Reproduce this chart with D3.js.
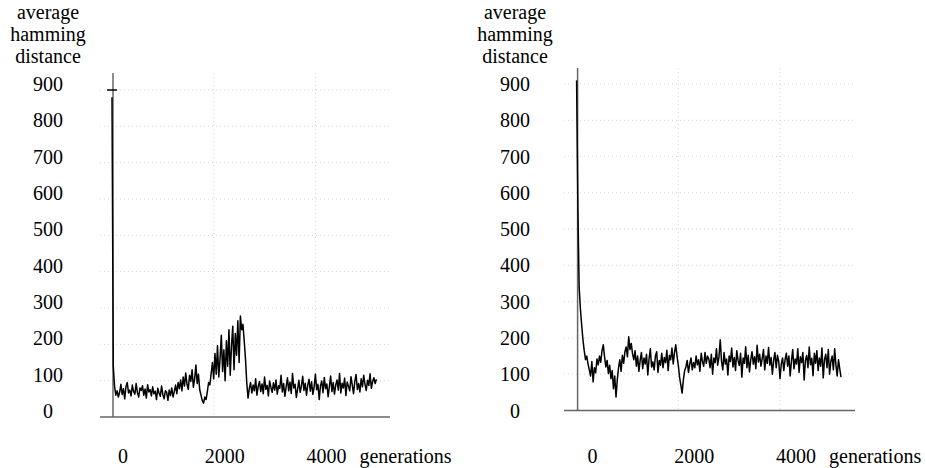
<!DOCTYPE html>
<html>
<head>
<meta charset="utf-8">
<script src="https://d3js.org/d3.v7.min.js"></script>
<style>
  body { margin: 0; background: #fff; }
</style>
</head>
<body>
<svg id="chart" width="926" height="468"></svg>
<script>
// generations between two samples
var genStep = 25;

var yTicks = [0, 100, 200, 300, 400, 500, 600, 700, 800, 900];
var xTicks = [0, 2000, 4000];
var xGrid = [2000, 4000];
var titleLines = ["average", "hamming", "distance"];
var xTitle = "generations";

// left run: spike at start, bump around 2000-2600
var leftValues = [
  880, 140, 85, 60, 72,
  55, 68, 90, 62, 78, 50, 84, 95, 66, 74,
  58, 88, 70, 63, 92, 67, 55, 80, 73, 86,
  60, 77, 52, 89, 69, 75, 58, 83, 64, 71,
  48, 79, 66, 57, 85, 62, 50, 72, 68, 46,
  74, 59, 80, 55,
  70, 88, 64, 95, 78, 102, 72, 110, 85, 121,
  90, 76, 115, 98, 130, 82, 105, 143, 92, 118,
  75, 60,
  45, 38, 55, 48, 70, 95, 88, 120,
  150, 105, 175, 118, 196, 110, 160, 225, 125, 185,
  100, 210, 140, 240, 115, 195, 250, 130, 230, 170,
  265, 150,
  278, 240, 255, 210, 160, 95,
  52, 78, 95, 66, 88, 72, 105, 60, 84, 98,
  70, 91, 64, 110, 76, 87, 58, 99, 82, 68,
  94, 74, 102, 63, 86, 79, 115, 69, 92, 57,
  83, 108, 72, 96, 65, 120, 80, 90, 54, 77,
  101, 68, 85, 112, 73, 93, 60, 88, 104, 71,
  97, 62, 82, 118, 75, 90, 48, 86, 99, 67,
  109, 78, 91, 56, 84, 113, 70, 95, 63, 88,
  102, 74, 120, 66, 93, 80, 107, 59, 96, 85,
  72, 111, 88, 64, 98, 117, 76, 92, 69, 105,
  83, 115, 90, 73, 101, 87, 119, 79, 97, 108,
  92, 104
];

// right run: fast decay then flat noisy plateau
var rightValues = [
  910, 560, 340, 280, 235, 195, 165, 140, 150,
  128, 112, 95, 135, 79, 118, 104, 142, 126, 150,
  133, 165, 181, 148, 120, 138,
  102, 125, 88, 110, 60, 95, 37, 84, 118, 140,
  108, 152, 130, 162, 175, 148, 203, 168, 185, 156,
  140, 165, 122, 150, 108, 138, 160, 115, 145, 128,
  155, 98, 142, 170, 120, 134, 112, 150, 162, 105,
  138, 125, 158, 118, 146, 132, 166, 110, 152, 140,
  172, 128, 160, 181, 150, 125,
  92, 70, 48, 85, 110,
  120, 138, 105, 128, 145, 112, 132, 118, 150, 126,
  140, 108, 158, 135, 122, 160, 130, 150, 142, 118,
  155, 100, 145, 132, 170, 125, 148, 195, 136, 112,
  160, 128, 142, 98, 150, 135, 172, 120, 146, 110,
  165, 138, 124, 158, 92, 145, 130, 176, 118, 152,
  106, 140, 162, 128, 148, 115, 180, 134, 155, 122,
  143, 168, 112, 150, 130, 174, 125, 146, 100, 138,
  160, 118, 152, 135, 88, 128, 145, 110, 140, 158,
  122, 150, 95, 136, 168, 115, 142, 128, 170, 105,
  148, 132, 160, 84, 138, 152, 118, 175, 126, 144,
  96, 158, 130, 165, 110, 145, 122, 172, 90, 140,
  155, 118, 168, 100, 135, 150, 112, 170, 125, 95,
  140, 115, 92
];

var fontFamily = "'Liberation Serif', 'Times New Roman', Times, 'DejaVu Serif', serif";

var svg = d3.select("#chart");

// panel layout (pixels)
var panels = [
  {values: leftValues, x0: 112, y0: 417, y900: 90, axisLeft: 100, axisRight: 390, axisTop: 73,
   labelX: 48, labelShift: 1, xLabelShift: 11, titleX: 48, mark900: true},
  {values: rightValues, x0: 576.6, y0: 410.5, y900: 84, axisLeft: 564, axisRight: 855, axisTop: 68,
   labelX: 515, labelShift: 7, xLabelShift: 16, titleX: 515, mark900: false}
];

function styleText(sel){
  return sel.attr("font-family", fontFamily).attr("font-size", 20).attr("fill", "#000");
}

panels.forEach(function(p){
  var x = d3.scaleLinear().domain([0, 5000]).range([p.x0, p.x0 + 254.25]);
  var y = d3.scaleLinear().domain([0, 900]).range([p.y0, p.y900]);
  var g = svg.append("g");

  // dotted grid
  g.selectAll(".hgrid").data(yTicks.slice(1)).enter().append("line")
    .attr("class", "hgrid")
    .attr("x1", p.axisLeft).attr("x2", p.axisRight)
    .attr("y1", function(d){ return y(d); }).attr("y2", function(d){ return y(d); })
    .style("stroke", "#d4d4d4").style("stroke-width", 1).style("stroke-dasharray", "1,3");

  g.selectAll(".vgrid").data(xGrid).enter().append("line")
    .attr("class", "vgrid")
    .attr("x1", function(d){ return x(d); }).attr("x2", function(d){ return x(d); })
    .attr("y1", p.axisTop).attr("y2", p.y0)
    .style("stroke", "#d4d4d4").style("stroke-width", 1).style("stroke-dasharray", "1,3");

  // axes
  g.append("line")
    .attr("x1", p.axisLeft).attr("x2", p.axisRight).attr("y1", p.y0).attr("y2", p.y0)
    .style("stroke", "#666").style("stroke-width", 1.5);
  g.append("line")
    .attr("x1", x(0) + 1).attr("x2", x(0) + 1).attr("y1", p.axisTop).attr("y2", p.y0)
    .style("stroke", "#666").style("stroke-width", 1.5);

  if (p.mark900) {
    g.append("line")
      .attr("x1", x(0) - 5).attr("x2", x(0) + 5).attr("y1", y(900)).attr("y2", y(900))
      .style("stroke", "#000").style("stroke-width", 1.5);
  }

  // data
  var line = d3.line()
    .x(function(d, i){ return x(i * genStep); })
    .y(function(d){ return y(d); });
  g.append("path").datum(p.values)
    .attr("d", line)
    .style("fill", "none").style("stroke", "#000").style("stroke-width", 1.5)
    .style("stroke-linejoin", "round");

  // y tick labels
  styleText(g.selectAll(".ylab").data(yTicks).enter().append("text"))
    .attr("class", "ylab")
    .attr("x", p.labelX)
    .attr("y", function(d){ return y(d) + p.labelShift; })
    .attr("text-anchor", "middle")
    .text(function(d){ return d; });

  // x tick labels
  styleText(g.selectAll(".xlab").data(xTicks).enter().append("text"))
    .attr("class", "xlab")
    .attr("x", function(d){ return x(d) + p.xLabelShift; })
    .attr("y", 463)
    .attr("text-anchor", "middle")
    .text(function(d){ return d; });

  styleText(g.append("text"))
    .attr("x", x(4000) + p.xLabelShift + 33).attr("y", 463)
    .text(xTitle);

  // axis title
  styleText(g.selectAll(".title").data(titleLines).enter().append("text"))
    .attr("class", "title")
    .attr("x", p.titleX)
    .attr("y", function(d, i){ return 19 + i * 22; })
    .attr("text-anchor", "middle")
    .text(function(d){ return d; });
});
</script>
</body>
</html>
